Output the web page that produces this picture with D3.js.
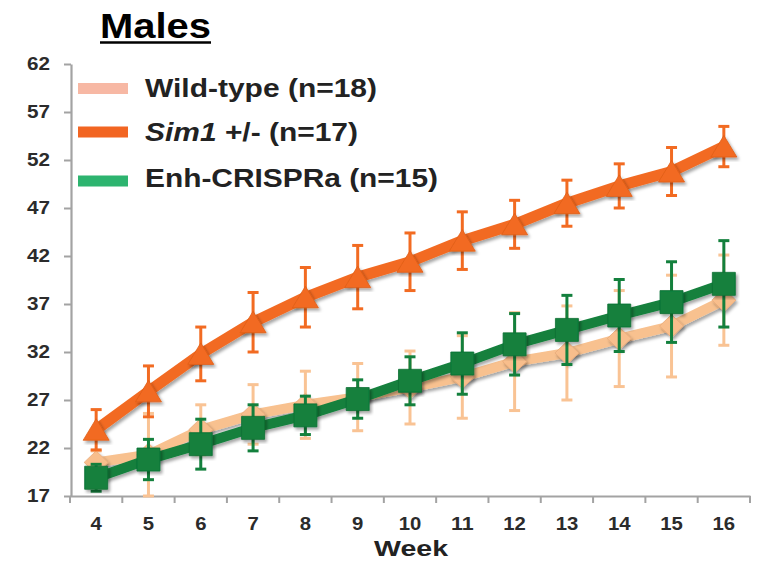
<!DOCTYPE html>
<html>
<head>
<meta charset="utf-8">
<script src="https://cdn.jsdelivr.net/npm/d3@7"></script>
<style>
  html, body { margin: 0; padding: 0; background: #fff; }
  svg { display: block; }
  text { font-family: "Liberation Sans", Arial, sans-serif; }
</style>
</head>
<body>
<svg id="chart" width="762" height="561"></svg>
<script>
// ---- data ----
const weeks = [4, 5, 6, 7, 8, 9, 10, 11, 12, 13, 14, 15, 16];
const yTicks = [17, 22, 27, 32, 37, 42, 47, 52, 57, 62];
const wildMean = [20.5, 21.3, 23.9, 25.5, 26.5, 27.3, 28.3, 29.4, 31.0, 31.9, 33.4, 34.7, 37.4];
const wildErr  = [1.2, 4.3, 2.6, 3.1, 3.5, 3.5, 3.8, 4.3, 5.1, 4.9, 5.0, 5.3, 4.7];
const simMean  = [23.9, 27.9, 31.8, 35.1, 37.7, 39.8, 41.4, 43.6, 45.3, 47.5, 49.3, 50.8, 53.4];
const simErr   = [2.1, 2.65, 2.8, 3.1, 3.1, 3.3, 3.0, 3.0, 2.5, 2.4, 2.3, 2.5, 2.1];
const enhMean  = [18.9, 20.8, 22.4, 24.1, 25.4, 27.1, 29.0, 30.8, 32.8, 34.3, 35.8, 37.2, 39.1];
const enhErr   = [1.4, 2.1, 2.6, 2.4, 2.0, 2.0, 2.5, 3.2, 3.2, 3.6, 3.75, 4.2, 4.5];
const legendLabels = ["Wild-type (n=18)", "Sim1 +/- (n=17)", "Enh-CRISPRa (n=15)"];
const titleText = "Males";
const xTitle = "Week";

const svg = d3.select("#chart");
const x = d3.scaleBand().domain(weeks).range([70, 750]);
const y = d3.scaleLinear().domain([17, 62]).range([496, 64]);
const cx = w => x(w) + x.bandwidth() / 2;

// drop shadow filter
const defs = svg.append("defs");
const f = defs.append("filter").attr("id", "shadow").attr("x", "-20%").attr("y", "-20%").attr("width", "140%").attr("height", "140%");
f.append("feDropShadow").attr("dx", 2).attr("dy", 2.5).attr("stdDeviation", 1.8)
  .attr("flood-color", "#000").attr("flood-opacity", 0.35);

// title
svg.append("text").attr("x", 100).attr("y", 37.5).attr("font-size", 35).attr("font-weight", "bold")
  .attr("fill", "#000").attr("textLength", 111).attr("lengthAdjust", "spacingAndGlyphs").text(titleText);
svg.append("line").attr("x1", 100).attr("x2", 211).attr("y1", 42.5).attr("y2", 42.5)
  .attr("stroke", "#000").attr("stroke-width", 2.5);

// axes
const axisColor = "#a3a3a3";
const yAxis = svg.append("g").attr("transform", "translate(71,0)")
  .call(d3.axisLeft(y).tickValues(yTicks).tickSize(7).tickPadding(14).tickSizeOuter(0));
yAxis.select(".domain").attr("stroke", axisColor).attr("stroke-width", 2.2);
yAxis.selectAll(".tick line").attr("stroke", axisColor).attr("stroke-width", 2);
yAxis.selectAll(".tick text").attr("font-size", 18).attr("font-weight", "bold").attr("fill", "#2b2b2b")
  .attr("font-family", "'Liberation Sans', Arial, sans-serif")
  .attr("textLength", d => String(d).length * 11.5).attr("lengthAdjust", "spacingAndGlyphs");

const xAxis = svg.append("g").attr("transform", "translate(0,496)")
  .call(d3.axisBottom(x).tickSize(0).tickPadding(21.5).tickSizeOuter(0));
xAxis.select(".domain").attr("stroke", axisColor).attr("stroke-width", 2.2);
xAxis.selectAll(".tick text").attr("font-size", 18).attr("font-weight", "bold").attr("fill", "#2b2b2b")
  .attr("font-family", "'Liberation Sans', Arial, sans-serif")
  .attr("textLength", d => String(d).length * 11.3).attr("lengthAdjust", "spacingAndGlyphs");
// boundary ticks between categories
const bounds = weeks.map(w => x(w)).concat([x(weeks[weeks.length - 1]) + x.step()]);
svg.append("g").selectAll("line").data(bounds).join("line")
  .attr("x1", d => d).attr("x2", d => d).attr("y1", 496).attr("y2", 503)
  .attr("stroke", axisColor).attr("stroke-width", 2);

svg.append("text").attr("x", 411).attr("y", 556).attr("text-anchor", "middle")
  .attr("font-size", 22.5).attr("font-weight", "bold").attr("fill", "#222")
  .attr("textLength", 74).attr("lengthAdjust", "spacingAndGlyphs").text(xTitle);

// series
const series = [
  { mean: wildMean, err: wildErr, line: "#F8C18F", bar: "#F9C394", fill: "#F8BE8C", stroke: "#E9A978", lw: 10, shape: "diamond" },
  { mean: enhMean, err: enhErr, line: "#13803D", bar: "#13803D", fill: "#13803D", stroke: "#0F7035", lw: 10, shape: "square" },
  { mean: simMean, err: simErr, line: "#F26B22", bar: "#F26B22", fill: "#F26B22", stroke: "#E05E18", lw: 11, shape: "triangle" }
];

function shapePath(s) {
  if (s === "diamond") return "M0,-11.5L12,0L0,11.5L-12,0Z";
  if (s === "square") return "M-11.5,-11.5H11.5V11.5H-11.5Z";
  return "M0,-11L13,10.5L-13,10.5Z";
}

series.forEach(s => {
  const g = svg.append("g");
  const pts = weeks.map((w, i) => ({ w, m: s.mean[i], e: s.err[i] }));
  // error bars
  const eb = g.append("g").selectAll("g").data(pts).join("g");
  eb.append("line").attr("x1", d => cx(d.w)).attr("x2", d => cx(d.w))
    .attr("y1", d => y(d.m + d.e)).attr("y2", d => y(d.m - d.e))
    .attr("stroke", s.bar).attr("stroke-width", 3);
  [1, -1].forEach(sign => {
    eb.append("line").attr("x1", d => cx(d.w) - 5.5).attr("x2", d => cx(d.w) + 5.5)
      .attr("y1", d => y(d.m + sign * d.e)).attr("y2", d => y(d.m + sign * d.e))
      .attr("stroke", s.bar).attr("stroke-width", 3);
  });
  // line
  g.append("path").datum(pts)
    .attr("d", d3.line().x(d => cx(d.w)).y(d => y(d.m)))
    .attr("fill", "none").attr("stroke", s.line).attr("stroke-width", s.lw)
    .attr("stroke-linejoin", "round").attr("filter", "url(#shadow)");
  // markers
  g.append("g").selectAll("path").data(pts).join("path")
    .attr("transform", d => `translate(${cx(d.w)},${y(d.m)})`)
    .attr("d", shapePath(s.shape))
    .attr("fill", s.fill).attr("stroke", s.stroke).attr("stroke-width", 0.8)
    .attr("filter", "url(#shadow)");
});

// legend
const legColors = ["#F7B8A4", "#F26522", "#2DB46F"];
const legSwatchY = [88.5, 132, 181];
const legBase = [96.5, 141, 187];
const legWidths = [232, 213, 293];
legendLabels.forEach((lab, i) => {
  svg.append("rect").attr("x", 78).attr("y", legSwatchY[i] - 5.5).attr("width", 50).attr("height", 11)
    .attr("fill", legColors[i]);
  const t = svg.append("text").attr("x", 145).attr("y", legBase[i]).attr("font-size", 25)
    .attr("font-weight", "bold").attr("fill", "#222")
    .attr("textLength", legWidths[i]).attr("lengthAdjust", "spacingAndGlyphs");
  if (i === 1) {
    t.append("tspan").attr("font-style", "italic").text("Sim1");
    t.append("tspan").text(" +/- (n=17)");
  } else {
    t.text(lab);
  }
});
</script>
</body>
</html>
